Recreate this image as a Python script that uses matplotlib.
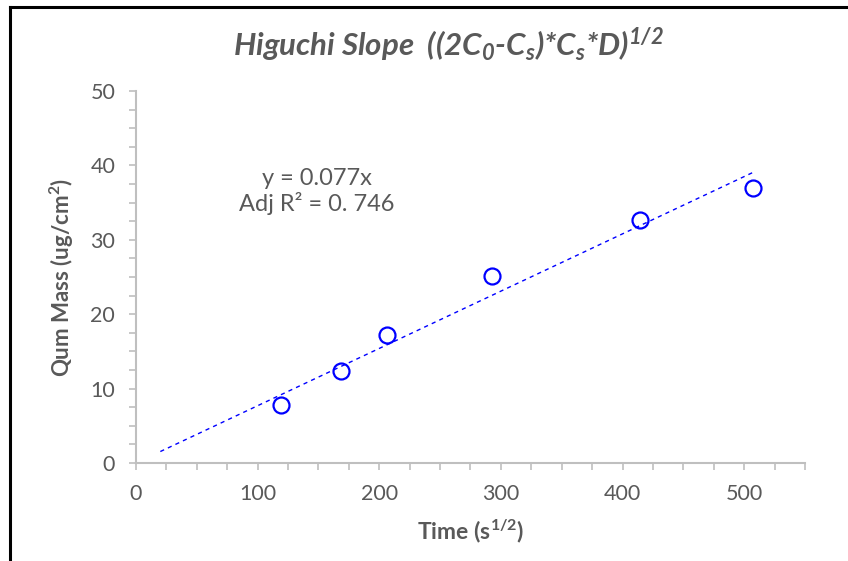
import matplotlib.pyplot as plt
from matplotlib.lines import Line2D

plt.rcParams["font.family"] = ["Lato", "DejaVu Sans"]
plt.rcParams["mathtext.default"] = "regular"

# measured points
time_sqrt = [119.5, 168.5, 206.5, 292.5, 414.0, 507.0]
qum_mass = [7.8, 12.4, 17.2, 25.1, 32.7, 36.9]

# trendline through origin
slope = 0.077
trend_x = [20, 508]
trend_y = [slope * x for x in trend_x]

grey = "#595959"
axis_grey = "#BFBFBF"
blue = "#0000FF"

fig = plt.figure(figsize=(8.48, 5.61), dpi=100)
ax = fig.add_axes([136 / 848, 98 / 561, 669 / 848, 372 / 561])

ax.plot(trend_x, trend_y, linestyle=(0, (3, 3)), color=blue, linewidth=1)
ax.plot(time_sqrt, qum_mass, linestyle="none", marker="o", markersize=11.5,
        markerfacecolor="none", markeredgecolor=blue, markeredgewidth=1.6)

ax.set_xlim(0, 550)
ax.set_ylim(0, 50)
ax.set_xticks(range(0, 501, 100))
ax.set_xticks(range(0, 551, 25), minor=True)
ax.set_yticks(range(0, 51, 10))
ax.set_yticks([i * 2.5 for i in range(21)], minor=True)

for side in ["top", "right"]:
    ax.spines[side].set_visible(False)
for side in ["left", "bottom"]:
    ax.spines[side].set_color(axis_grey)
    ax.spines[side].set_linewidth(1.5)

ax.tick_params(which="both", direction="out", length=5, width=1.2,
               color=axis_grey, labelcolor=grey, labelsize=15.5, pad=10)

ax.set_xlabel("Time (s$^{1/2}$)", fontsize=16.5, fontweight="bold", color=grey, labelpad=10)
ax.set_ylabel("Qum Mass (ug/cm$^{2}$)", fontsize=16, fontweight="bold", color=grey, labelpad=10)

ax.text(149, 36.5, "y = 0.077x\nAdj R² = 0. 746", ha="center", va="center",
        fontsize=17, color=grey, linespacing=1.2)

fig.text(448 / 848, 1 - 45 / 561, "Higuchi Slope  ((2C$_0$-C$_s$)*C$_s$*D)$^{1/2}$",
         ha="center", va="center", fontsize=22.5, fontweight="bold", fontstyle="italic",
         color=grey)

# chart border (only top and left visible in the crop)
fig.add_artist(Line2D([10 / 848, 1.01], [1 - 7 / 561, 1 - 7 / 561],
                      transform=fig.transFigure, color="black", linewidth=2.2))
fig.add_artist(Line2D([10 / 848, 10 / 848], [1 - 7 / 561, -0.01],
                      transform=fig.transFigure, color="black", linewidth=2.2))

fig.savefig("out.png", dpi=100)
